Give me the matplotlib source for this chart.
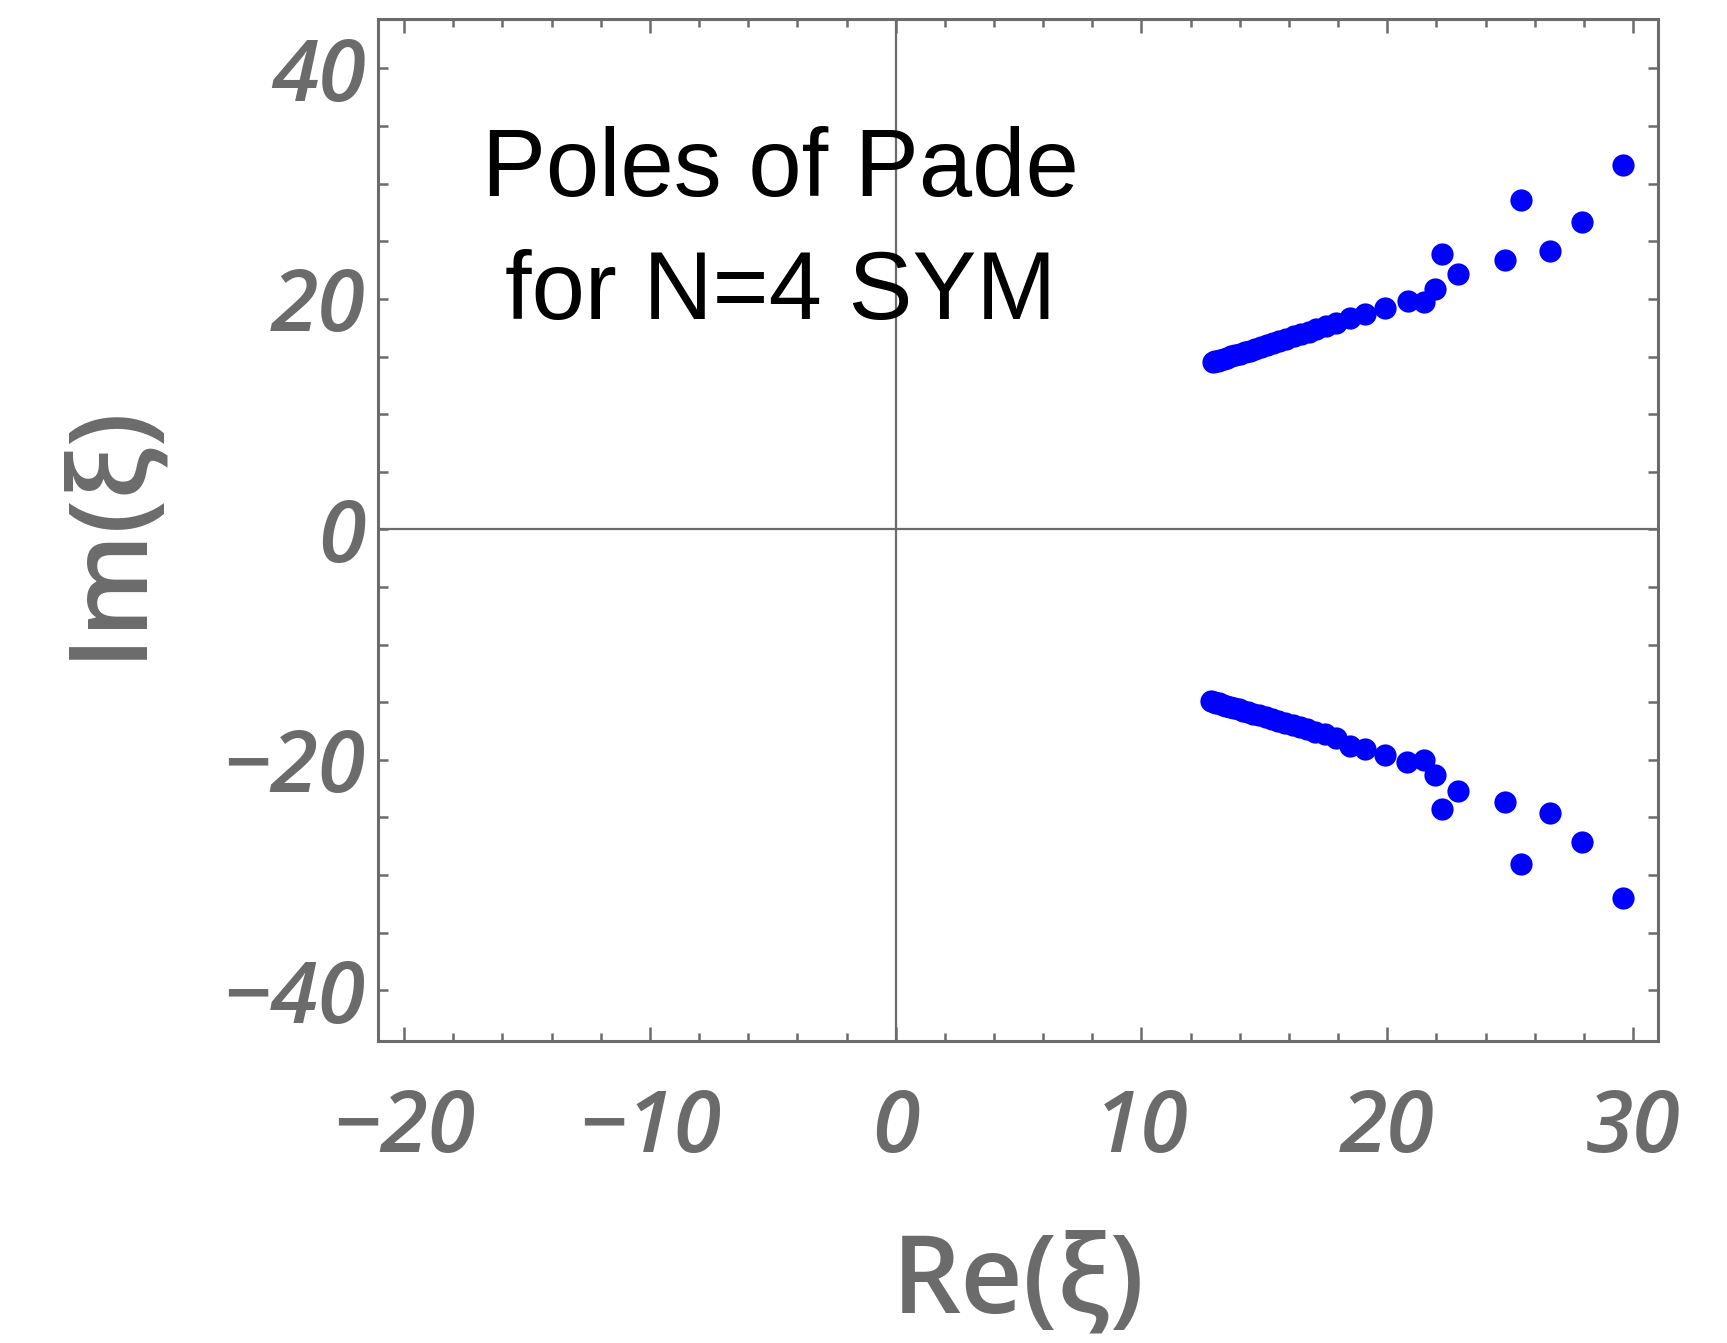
import matplotlib
matplotlib.use("Agg")
from matplotlib import pyplot as plt
from matplotlib.ticker import MultipleLocator

# poles of the Pade approximant, upper half plane
re_upper = [12.90, 13.00, 13.10, 13.20, 13.35, 13.50, 13.65, 13.80, 14.00, 14.20,
            14.40, 14.60, 14.85, 15.10, 15.35, 15.60, 15.90, 16.20, 16.50, 16.80,
            17.10, 17.50, 17.90, 18.49, 19.11, 19.91, 20.83, 21.48, 21.96, 22.21,
            22.88, 24.81, 25.45, 26.63, 27.93, 29.58]
im_upper = [14.50, 14.57, 14.64, 14.70, 14.81, 14.91, 15.01, 15.11, 15.25, 15.38,
            15.52, 15.66, 15.83, 16.00, 16.17, 16.34, 16.54, 16.74, 16.95, 17.15,
            17.36, 17.63, 17.90, 18.36, 18.70, 19.20, 19.80, 19.75, 20.88, 23.91,
            22.20, 23.36, 28.57, 24.20, 26.66, 31.60]

# lower half plane
re_lower = [12.85, 12.95, 13.05, 13.15, 13.30, 13.45, 13.60, 13.75, 13.95, 14.15,
            14.35, 14.55, 14.80, 15.05, 15.30, 15.55, 15.85, 16.15, 16.45, 16.75,
            17.05, 17.45, 17.90, 18.49, 19.11, 19.91, 20.79, 21.48, 21.96, 22.21,
            22.88, 24.81, 25.45, 26.63, 27.93, 29.58]
im_lower = [-14.92, -14.98, -15.05, -15.11, -15.20, -15.30, -15.39, -15.49, -15.61, -15.74,
            -15.86, -15.99, -16.14, -16.30, -16.46, -16.61, -16.80, -16.99, -17.18, -17.36,
            -17.55, -17.80, -18.08, -18.83, -19.10, -19.60, -20.20, -20.00, -21.30, -24.30,
            -22.70, -23.70, -29.00, -24.60, -27.10, -32.00]

xticks = [-20, -10, 0, 10, 20, 30]
yticks = [-40, -20, 0, 20, 40]

gray = "#6b6b6b"

fig = plt.figure(figsize=(17.27, 13.43), dpi=100)
ax = fig.add_axes([0.2189, 0.2249, 0.7412, 0.7610])

ax.axhline(0, color=gray, lw=1.6, zorder=1)
ax.axvline(0, color=gray, lw=1.6, zorder=1)
ax.plot(re_upper, im_upper, "o", color="#0000ff", ms=16, mec="none", zorder=3)
ax.plot(re_lower, im_lower, "o", color="#0000ff", ms=16, mec="none", zorder=3)

ax.set_xlim(-21.06, 31.02)
ax.set_ylim(-44.4, 44.3)

ax.set_xticks(xticks)
ax.set_yticks(yticks)
ax.xaxis.set_minor_locator(MultipleLocator(2))
ax.yaxis.set_minor_locator(MultipleLocator(5))

for s in ax.spines.values():
    s.set_color(gray)
    s.set_linewidth(2.2)

ax.tick_params(which="both", direction="in", top=True, right=True, color=gray, width=1.8,
               labelcolor=gray)
ax.tick_params(axis="x", which="major", length=10, pad=33)
ax.tick_params(axis="x", which="minor", length=6)
ax.tick_params(axis="y", which="both", length=7, pad=9)

for lab in ax.get_xticklabels() + ax.get_yticklabels():
    lab.set_family(["Open Sans", "DejaVu Sans"])
    lab.set_style("italic")
    lab.set_weight("semibold")
    lab.set_fontsize(62)

ax.set_xlabel("Re(ξ)", fontsize=78, color=gray, family=["Open Sans", "DejaVu Sans"],
              weight="semibold", va="center")
ax.set_ylabel("Im(ξ)", fontsize=78, color=gray, family=["Open Sans", "DejaVu Sans"],
              weight="semibold", va="center")
ax.xaxis.set_label_coords(0.5, -0.238)
ax.yaxis.set_label_coords(-0.21, 0.5)

ax.text(-4.7, 28.96, "Poles of Pade", ha="center", va="baseline", fontsize=69,
        family=["Liberation Sans", "DejaVu Sans"], color="black")
ax.text(-4.7, 18.3, "for N=4 SYM", ha="center", va="baseline", fontsize=69,
        family=["Liberation Sans", "DejaVu Sans"], color="black")

fig.savefig("out.png", dpi=100)
